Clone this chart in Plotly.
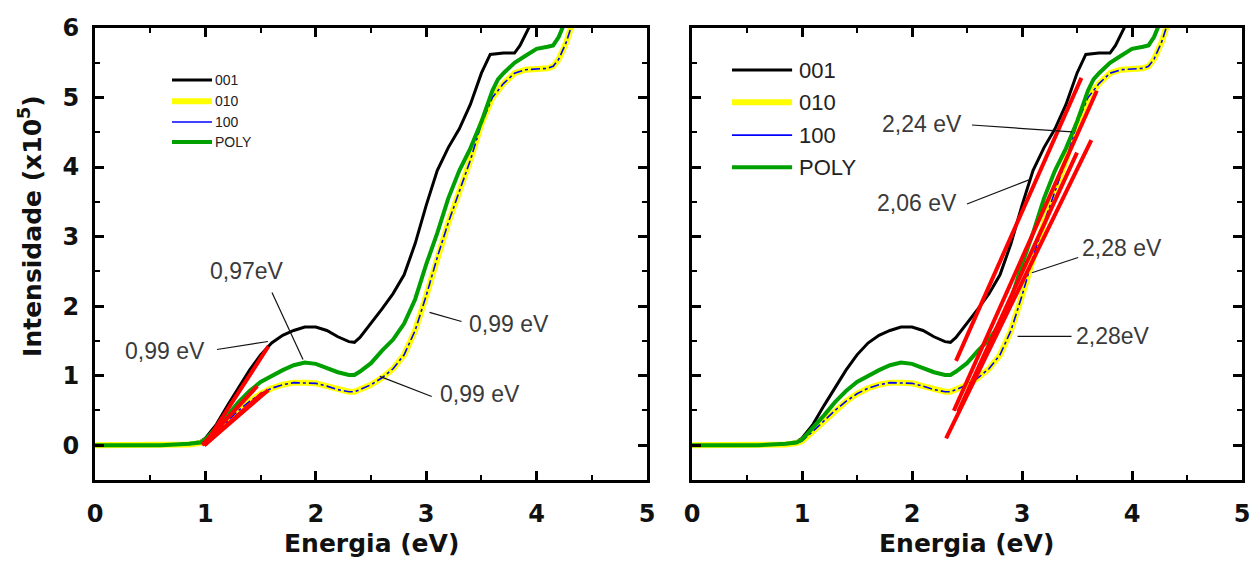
import plotly.graph_objects as go

# ---------------- data ----------------
series_names = ["001", "010", "100", "POLY"]
series_colors = ["#000000", "#ffff00", "#0000ff", "#00a000"]

energy_001 = [0, 0.3, 0.6, 0.85, 0.95, 1.0, 1.1, 1.2, 1.3, 1.4, 1.5, 1.6, 1.7, 1.8, 1.9,
              2.0, 2.1, 2.2, 2.3, 2.35, 2.4, 2.5, 2.6, 2.7, 2.8, 2.9, 3.0, 3.1, 3.2, 3.3,
              3.4, 3.5, 3.58, 3.7, 3.8, 3.85, 3.9, 3.96]
inten_001 = [0, 0, 0, 0.02, 0.05, 0.1, 0.3, 0.57, 0.83, 1.08, 1.3, 1.47, 1.58, 1.65, 1.7,
             1.7, 1.65, 1.56, 1.49, 1.48, 1.55, 1.75, 1.96, 2.18, 2.45, 2.9, 3.45, 3.95, 4.28, 4.55,
             4.9, 5.35, 5.62, 5.64, 5.64, 5.75, 5.92, 6.1]

energy_010 = [0, 0.3, 0.6, 0.85, 0.95, 1.0, 1.1, 1.2, 1.3, 1.4, 1.5, 1.6, 1.7, 1.8, 1.9,
              2.0, 2.1, 2.2, 2.3, 2.35, 2.4, 2.5, 2.6, 2.7, 2.8, 2.9, 3.0, 3.1, 3.2, 3.3,
              3.4, 3.5, 3.6, 3.7, 3.8, 3.9, 4.0, 4.1, 4.15, 4.2, 4.27, 4.33]
inten_010 = [0, 0, 0, 0.01, 0.03, 0.06, 0.2, 0.35, 0.5, 0.63, 0.74, 0.82, 0.87, 0.9, 0.9,
             0.89, 0.85, 0.8, 0.77, 0.77, 0.8, 0.87, 0.97, 1.1, 1.3, 1.65, 2.15, 2.7, 3.2, 3.65,
             4.1, 4.62, 5.0, 5.2, 5.35, 5.4, 5.41, 5.42, 5.45, 5.55, 5.8, 6.1]

energy_100 = [0, 0.3, 0.6, 0.85, 0.95, 1.0, 1.1, 1.2, 1.3, 1.4, 1.5, 1.6, 1.7, 1.8, 1.9,
              2.0, 2.1, 2.2, 2.3, 2.35, 2.4, 2.5, 2.6, 2.7, 2.8, 2.9, 3.0, 3.1, 3.2, 3.3,
              3.4, 3.5, 3.6, 3.7, 3.8, 3.9, 4.0, 4.1, 4.15, 4.2, 4.27, 4.33]
inten_100 = [0, 0, 0, 0.01, 0.03, 0.06, 0.2, 0.35, 0.5, 0.63, 0.74, 0.82, 0.87, 0.9, 0.9,
             0.89, 0.85, 0.8, 0.77, 0.77, 0.8, 0.87, 0.97, 1.1, 1.3, 1.65, 2.15, 2.7, 3.2, 3.65,
             4.1, 4.62, 5.0, 5.2, 5.35, 5.4, 5.41, 5.42, 5.45, 5.55, 5.8, 6.1]

energy_poly = [0, 0.3, 0.6, 0.85, 0.95, 1.0, 1.1, 1.2, 1.3, 1.4, 1.5, 1.6, 1.7, 1.8, 1.9,
               2.0, 2.1, 2.2, 2.3, 2.35, 2.4, 2.5, 2.6, 2.7, 2.8, 2.9, 3.0, 3.1, 3.2, 3.3,
               3.4, 3.5, 3.6, 3.65, 3.7, 3.8, 3.9, 4.0, 4.1, 4.15, 4.2, 4.26]
inten_poly = [0, 0, 0, 0.02, 0.04, 0.08, 0.25, 0.43, 0.62, 0.78, 0.91, 1.0, 1.08, 1.15, 1.19,
              1.17, 1.11, 1.05, 1.01, 1.01, 1.06, 1.18, 1.36, 1.52, 1.75, 2.1, 2.6, 3.05, 3.55, 3.95,
              4.27, 4.65, 5.1, 5.26, 5.35, 5.5, 5.6, 5.7, 5.73, 5.75, 5.87, 6.1]

# Linear fits of the absorption edge: gap energy (x-intercept), slope, fitted energy span
# first edge (left panel)
gap1_eV = [0.99, 0.99, 0.99, 0.97]
gap1_slope = [2.45, 1.37, 1.42, 1.70]
gap1_xmax = [1.57, 1.57, 1.52, 1.47]
# second edge (right panel)
gap2_eV = [2.06, 2.28, 2.28, 2.24]
gap2_slope = [3.57, 3.25, 3.45, 3.54]
gap2_xmin = [2.40, 2.31, 2.42, 2.38]
gap2_xmax = [3.54, 3.63, 3.50, 3.68]

# Gap labels: text, text centre (E, I), leader start, leader end
labels_left = ["0,97eV", "0,99 eV", "0,99 eV", "0,99 eV"]
labels_left_pos = [(1.377, 2.50), (0.634, 1.35), (3.487, 0.73), (3.75, 1.75)]
labels_left_lead = [((1.603, 2.195), (1.884, 1.234)), ((1.105, 1.377), (1.567, 1.492)),
                    ((2.58, 0.99), (3.05, 0.70)), ((3.03, 1.91), (3.32, 1.78))]
labels_right = ["2,24 eV", "2,06 eV", "2,28 eV", "2,28eV"]
labels_right_pos = [(2.09, 4.62), (2.045, 3.486), (3.91, 2.84), (3.83, 1.564)]
labels_right_lead = [((2.545, 4.605), (3.455, 4.505)), ((2.50, 3.47), (3.07, 3.82)),
                     ((3.51, 2.70), (3.09, 2.48)), ((3.45, 1.564), (2.96, 1.564))]

x_ticks = [0, 1, 2, 3, 4, 5]
y_ticks = [0, 1, 2, 3, 4, 5, 6]

# ---------------- figure ----------------
energies = [energy_001, energy_010, energy_100, energy_poly]
intens = [inten_001, inten_010, inten_100, inten_poly]
widths = [3, 6, 1.6, 4]
dashes = ["solid", "solid", "dashdot", "solid"]
draw_order = [0, 1, 2, 3]

fig = go.Figure()

for xa, ya in [("x", "y"), ("x2", "y2")]:
    for i in draw_order:
        fig.add_trace(go.Scatter(
            x=energies[i], y=intens[i], mode="lines", name=series_names[i],
            line=dict(color=series_colors[i], width=widths[i], dash=dashes[i], shape="linear"),
            xaxis=xa, yaxis=ya, showlegend=False, hoverinfo="skip"))

# red edge fits
for i in range(4):
    xs = [gap1_eV[i], gap1_xmax[i]]
    ys = [gap1_slope[i] * (v - gap1_eV[i]) for v in xs]
    fig.add_trace(go.Scatter(x=xs, y=ys, mode="lines", line=dict(color="#ff0000", width=4),
                             xaxis="x", yaxis="y", showlegend=False, hoverinfo="skip"))
for i in range(4):
    xs = [gap2_xmin[i], gap2_xmax[i]]
    ys = [gap2_slope[i] * (v - gap2_eV[i]) for v in xs]
    fig.add_trace(go.Scatter(x=xs, y=ys, mode="lines", line=dict(color="#ff0000", width=4),
                             xaxis="x2", yaxis="y2", showlegend=False, hoverinfo="skip"))

annotations = []
shapes = []
label_font = dict(family="Liberation Sans, Arial", size=23, color="#3a3a3a")

for (texts, pos, leads, xr, yr) in [(labels_left, labels_left_pos, labels_left_lead, "x", "y"),
                                    (labels_right, labels_right_pos, labels_right_lead, "x2", "y2")]:
    for t, (px, py), ((x0, y0), (x1, y1)) in zip(texts, pos, leads):
        annotations.append(dict(text=t, x=px, y=py, xref=xr, yref=yr, showarrow=False,
                                xanchor="center", yanchor="middle", font=label_font))
        shapes.append(dict(type="line", x0=x0, y0=y0, x1=x1, y1=y1, xref=xr, yref=yr,
                           line=dict(color="#111111", width=1.2)))

# legends (one per panel, different sizes)
legend_specs = [
    dict(xr="x domain", yr="y domain", x0=0.1395, x1=0.212, xt=0.214,
         ys=[0.885, 0.838, 0.792, 0.748], size=14),
    dict(xr="x2 domain", yr="y2 domain", x0=0.0727, x1=0.182, xt=0.191,
         ys=[0.907, 0.836, 0.763, 0.692], size=22),
]
legend_widths = [3, 6, 1.6, 4]
for spec in legend_specs:
    for i, yv in enumerate(spec["ys"]):
        shapes.append(dict(type="line", xref=spec["xr"], yref=spec["yr"],
                           x0=spec["x0"], x1=spec["x1"], y0=yv, y1=yv,
                           line=dict(color=series_colors[i], width=legend_widths[i])))
        annotations.append(dict(text=series_names[i], xref=spec["xr"], yref=spec["yr"],
                                x=spec["xt"], y=yv, xanchor="left", yanchor="middle",
                                showarrow=False,
                                font=dict(family="Liberation Sans, Arial", size=spec["size"],
                                          color="#222222")))

title_font = dict(family="DejaVu Sans", size=25, color="#111111", weight="bold")
annotations.append(dict(text="Intensidade (x10<sup>5</sup>)", xref="paper", yref="paper",
                        x=0.0248, y=0.603, textangle=-90, showarrow=False,
                        xanchor="center", yanchor="middle", font=title_font))
for xc in [0.2968, 0.7736]:
    annotations.append(dict(text="Energia (eV)", xref="paper", yref="paper",
                            x=xc, y=0.044, showarrow=False,
                            xanchor="center", yanchor="middle", font=title_font))

tick_font = dict(family="DejaVu Sans", size=24, color="#111111", weight="bold")
axis_common = dict(showline=True, linewidth=3, linecolor="black", mirror="allticks",
                   ticks="inside", ticklen=9, tickwidth=3, tickcolor="black",
                   showgrid=False, zeroline=False, tickfont=tick_font, automargin=False,
                   ticklabeloverflow="allow")

fig.update_layout(
    width=1250, height=569,
    margin=dict(l=0, r=0, t=0, b=0, autoexpand=False),
    paper_bgcolor="white", plot_bgcolor="white",
    xaxis=dict(domain=[0.076, 0.5176], range=[0, 5], tickvals=x_ticks, anchor="y",
               minor=dict(dtick=0.5, ticks="inside", ticklen=5, tickwidth=2, tickcolor="black"),
               ticklabelstandoff=10, **axis_common),
    yaxis=dict(domain=[0.1564, 0.9508], range=[-0.5, 6], tickvals=y_ticks, anchor="x",
               minor=dict(dtick=0.5, tick0=0, ticks="inside", ticklen=5, tickwidth=2, tickcolor="black"),
               ticklabelstandoff=8, **axis_common),
    xaxis2=dict(domain=[0.5536, 0.9936], range=[0, 5], tickvals=x_ticks, anchor="y2",
                minor=dict(dtick=0.5, ticks="inside", ticklen=5, tickwidth=2, tickcolor="black"),
                ticklabelstandoff=10, **axis_common),
    yaxis2=dict(domain=[0.1564, 0.9508], range=[-0.5, 6], tickvals=y_ticks, anchor="x2",
                showticklabels=False,
                minor=dict(dtick=0.5, tick0=0, ticks="inside", ticklen=5, tickwidth=2, tickcolor="black"),
                **axis_common),
    annotations=annotations,
    shapes=shapes,
)

fig.write_html("out.html")
